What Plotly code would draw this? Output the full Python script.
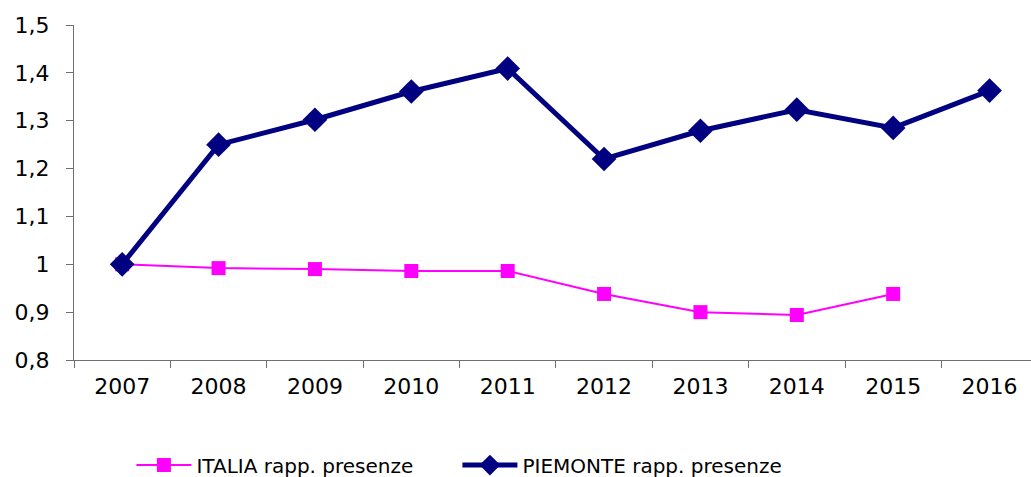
import plotly.graph_objects as go

years = ["2007", "2008", "2009", "2010", "2011", "2012", "2013", "2014", "2015", "2016"]
italia = [1.0, 0.992, 0.990, 0.986, 0.986, 0.938, 0.900, 0.894, 0.938, None]
piemonte = [1.0, 1.250, 1.302, 1.361, 1.409, 1.220, 1.279, 1.323, 1.285, 1.363]
y_tickvals = [0.8, 0.9, 1.0, 1.1, 1.2, 1.3, 1.4, 1.5]
y_ticktext = ["0,8", "0,9", "1", "1,1", "1,2", "1,3", "1,4", "1,5"]

FONT = "DejaVu Sans, sans-serif"

fig = go.Figure()
fig.add_trace(go.Scatter(
    x=years, y=italia, name="ITALIA rapp. presenze", mode="lines+markers",
    line=dict(color="#FF00FF", width=2),
    marker=dict(symbol="square", size=14, color="#FF00FF"),
    connectgaps=False,
))
fig.add_trace(go.Scatter(
    x=years, y=piemonte, name="PIEMONTE rapp. presenze", mode="lines+markers",
    line=dict(color="#000080", width=5),
    marker=dict(symbol="diamond", size=19, color="#000080"),
))

fig.update_layout(
    width=1031, height=477,
    margin=dict(l=74, r=0, t=25, b=117, autoexpand=False),
    paper_bgcolor="white", plot_bgcolor="white",
    font=dict(family=FONT, color="black"),
    showlegend=True,
    legend=dict(orientation="h", x=0.060, xanchor="left",
                yref="container", y=0.025, yanchor="middle",
                font=dict(size=20, family=FONT), traceorder="normal",
                itemwidth=55, entrywidth=256, entrywidthmode="pixels"),
)
fig.update_xaxes(
    type="category", range=[-0.5, 9.43], automargin=False,
    showline=True, linecolor="#707070", linewidth=1.2,
    ticks="outside", ticklen=7, tickcolor="#707070", tickson="boundaries",
    showgrid=False, tickfont=dict(size=22, family=FONT), ticklabelstandoff=6,
)
fig.update_yaxes(
    range=[0.8, 1.5], tickvals=y_tickvals, ticktext=y_ticktext, automargin=False,
    showline=True, linecolor="#707070", linewidth=1.2,
    ticks="outside", ticklen=7, tickcolor="#707070",
    showgrid=False, zeroline=False, tickfont=dict(size=22, family=FONT),
    ticklabelstandoff=12,
)
fig.update_traces(cliponaxis=False)
fig.write_html(
    "out.html",
    config={"displayModeBar": False},
    post_script="document.body.style.margin='0';document.body.style.overflow='hidden';",
)
